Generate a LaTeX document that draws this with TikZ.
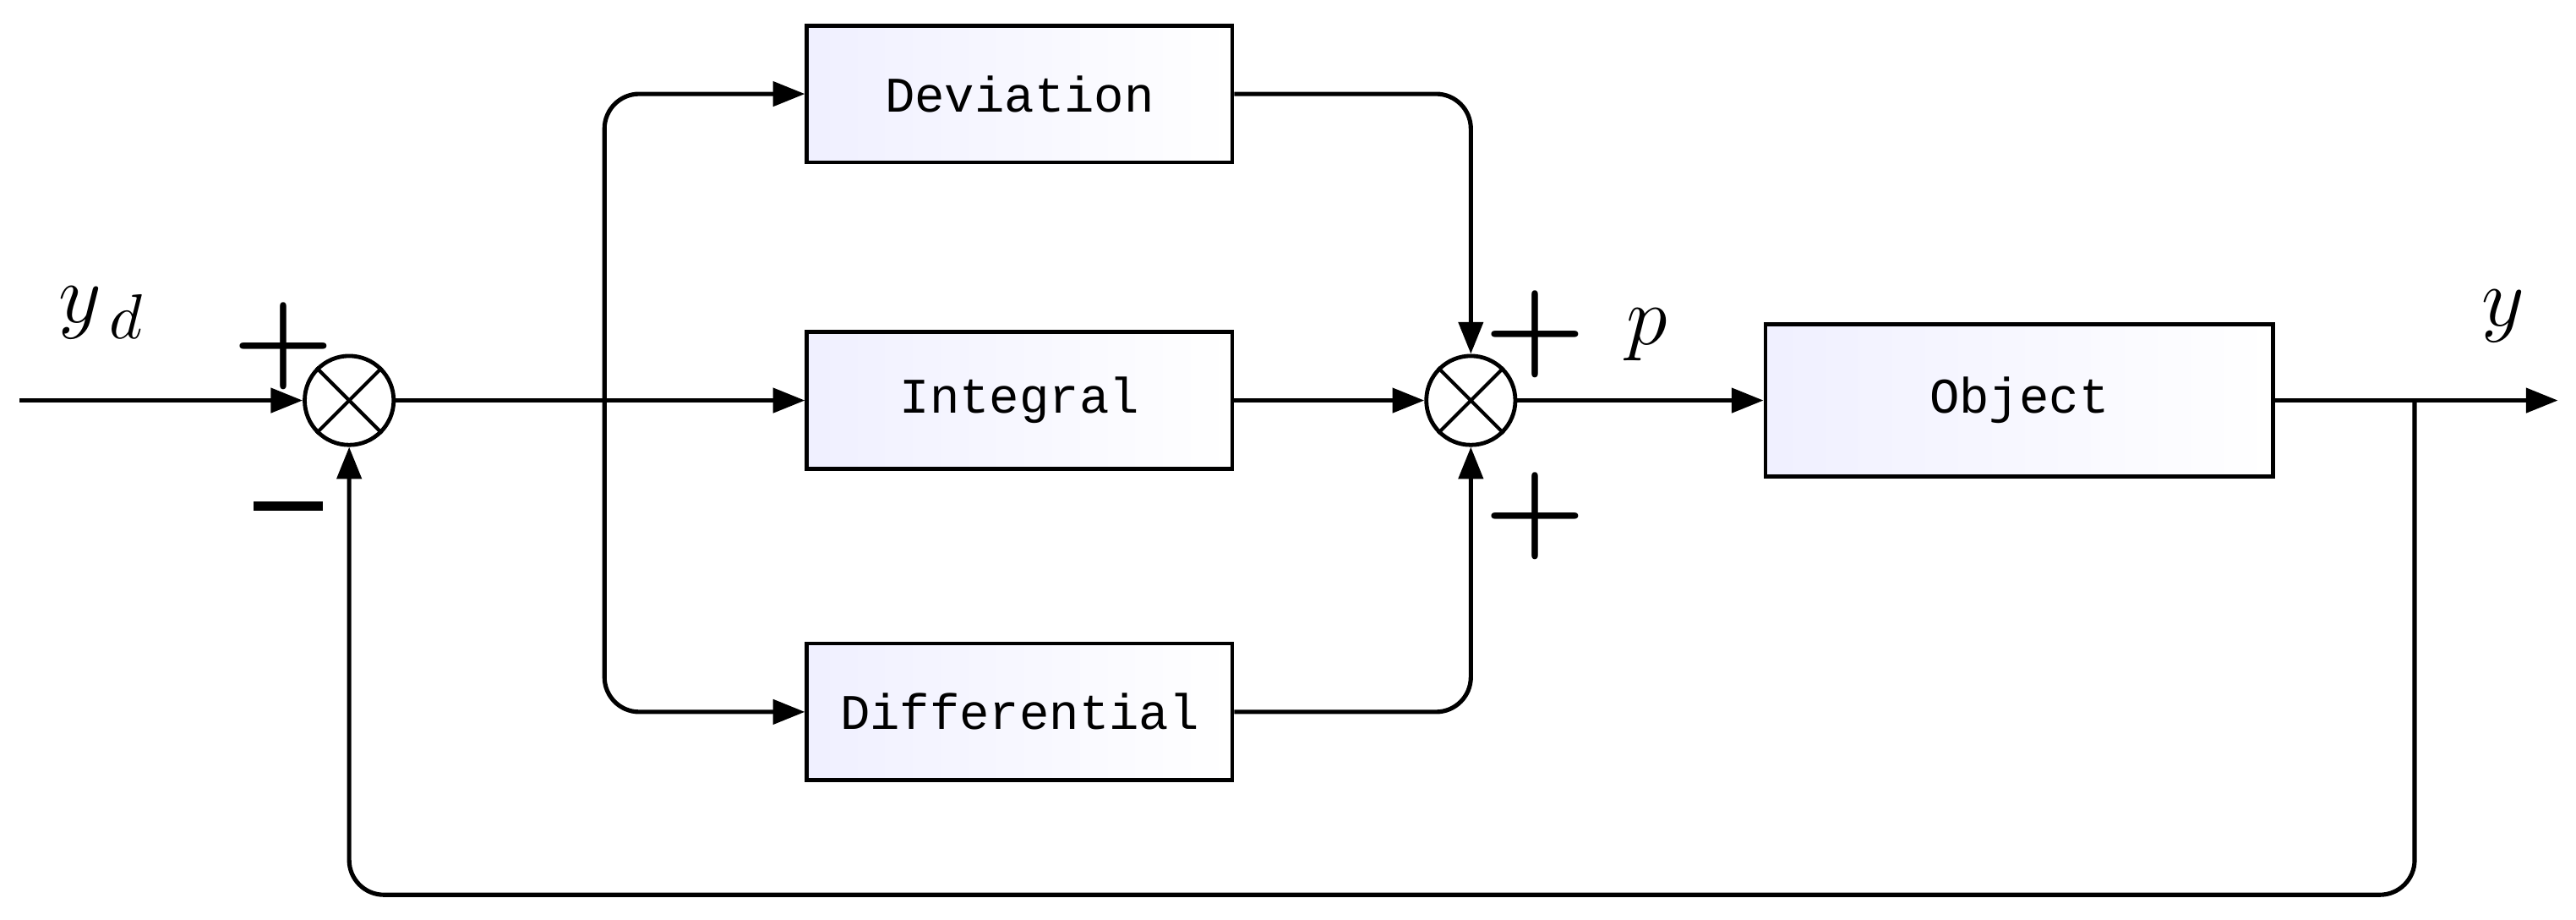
\documentclass[tikz,border=0pt]{standalone}
\usepackage{fontspec}
\newfontfamily\boxfont{Liberation Mono}
\usetikzlibrary{arrows.meta,positioning}

\tikzset{
  block/.style={draw, line width=0.7pt, left color=blue!6, right color=white, minimum width=2.58cm, minimum height=0.83cm, font=\boxfont\fontsize{8.6}{10}\selectfont},
  sum/.style={draw, circle, line width=0.7pt, minimum size=0.54cm, inner sep=0pt},
  link/.style={line width=0.75pt, -{Triangle[length=5.5pt,width=4.2pt]}},
  sign/.style={font=\bfseries\fontsize{20}{20}\selectfont}
}

\begin{document}
\begin{tikzpicture}[x=0.01cm, y=-0.01cm]
    \useasboundingbox (0,0) rectangle (1564,558);

    % Summing junctions
    \node[sum] (S_1) at (212,243) {};
    \node[sum] (S_2) at (893,243) {};
    \draw[line width=0.6pt] (S_1.north west) -- (S_1.south east) (S_1.north east) -- (S_1.south west);
    \draw[line width=0.6pt] (S_2.north west) -- (S_2.south east) (S_2.north east) -- (S_2.south west);

    % Blocks
    \node[block] (Dev) at (619,57) {Deviation};
    \node[block] (Int) at (619,243) {Integral};
    \node[block] (Dif) at (619,432) {Differential};
    \node[block, minimum width=3.08cm, minimum height=0.92cm] (Obj) at (1226,243) {Object};

    % Auxiliary points
    \coordinate (In) at (12,243);
    \coordinate (Out) at (1553,243);
    \coordinate (Tap) at (1466,243);

    % Edges
    \draw[link] (In) -- (S_1.west);
    \draw[link] (S_1.east) -- (Int.west);
    \draw[link, rounded corners=6pt] (367,243) |- (Dev.west);
    \draw[link, rounded corners=6pt] (367,243) |- (Dif.west);
    \draw[link, rounded corners=6pt] (Dev.east) -| (S_2.north);
    \draw[link, rounded corners=6pt] (Dif.east) -| (S_2.south);
    \draw[link] (Int.east) -- (S_2.west);
    \draw[link] (S_2.east) -- (Obj.west);
    \draw[link] (Obj.east) -- (Out);
    \draw[link, rounded corners=6pt] (Tap) -- (1466,543) -| (S_1.south);

    % Labels
    \node[font=\fontsize{15}{16}\selectfont] (L_yd) at (62,190) {$y_{\,d}$};
    \node[font=\fontsize{15}{16}\selectfont] (L_p) at (1000,203) {$p$};
    \node[font=\fontsize{15}{16}\selectfont] (L_y) at (1520,192) {$y$};
    \node[sign] (P_1) at (172,210) {+};
    \node[sign] (M_1) at (175,307) {\rule{0.42cm}{1.6pt}};
    \node[sign] (P_2) at (932,203) {+};
    \node[sign] (P_3) at (932,313) {+};
\end{tikzpicture}
\end{document}
